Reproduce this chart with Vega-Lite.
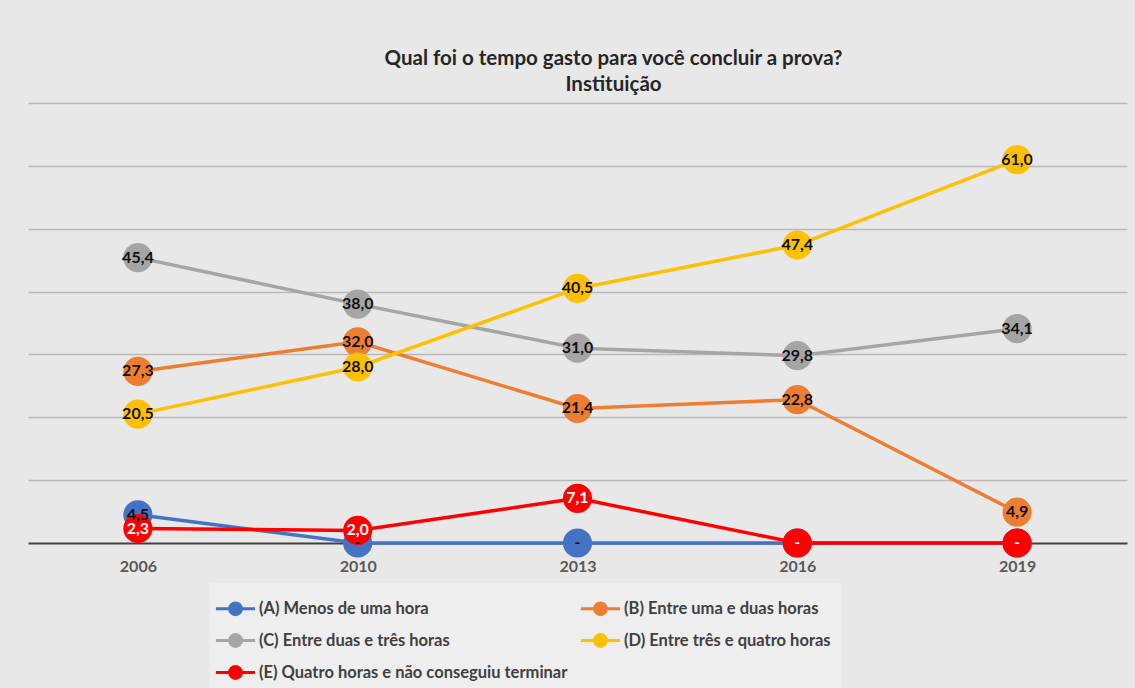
{
  "$schema": "https://vega.github.io/schema/vega-lite/v6.json",
  "width": 1099,
  "height": 440,
  "autosize": {"type": "none"},
  "padding": {"left": 28, "top": 103, "right": 8, "bottom": 145},
  "background": "#e8e8e8",
  "title": {
    "text": ["Qual foi o tempo gasto para você concluir a prova?", "Instituição"],
    "font": "Lato",
    "fontSize": 20.5,
    "fontWeight": "bold",
    "color": "#262626",
    "anchor": "middle",
    "dx": 36,
    "offset": 8,
    "lineHeight": 26
  },
  "config": {
    "view": {"stroke": null},
    "font": "Lato"
  },
  "data": {
    "values": [
      {"ano": "2006", "s": "(A) Menos de uma hora", "v": 4.5},
      {"ano": "2010", "s": "(A) Menos de uma hora", "v": 0},
      {"ano": "2013", "s": "(A) Menos de uma hora", "v": 0},
      {"ano": "2016", "s": "(A) Menos de uma hora", "v": 0},
      {"ano": "2019", "s": "(A) Menos de uma hora", "v": 0},
      {"ano": "2006", "s": "(B) Entre uma e duas horas", "v": 27.3},
      {"ano": "2010", "s": "(B) Entre uma e duas horas", "v": 32.0},
      {"ano": "2013", "s": "(B) Entre uma e duas horas", "v": 21.4},
      {"ano": "2016", "s": "(B) Entre uma e duas horas", "v": 22.8},
      {"ano": "2019", "s": "(B) Entre uma e duas horas", "v": 4.9},
      {"ano": "2006", "s": "(C) Entre duas e três horas", "v": 45.4},
      {"ano": "2010", "s": "(C) Entre duas e três horas", "v": 38.0},
      {"ano": "2013", "s": "(C) Entre duas e três horas", "v": 31.0},
      {"ano": "2016", "s": "(C) Entre duas e três horas", "v": 29.8},
      {"ano": "2019", "s": "(C) Entre duas e três horas", "v": 34.1},
      {"ano": "2006", "s": "(D) Entre três e quatro horas", "v": 20.5},
      {"ano": "2010", "s": "(D) Entre três e quatro horas", "v": 28.0},
      {"ano": "2013", "s": "(D) Entre três e quatro horas", "v": 40.5},
      {"ano": "2016", "s": "(D) Entre três e quatro horas", "v": 47.4},
      {"ano": "2019", "s": "(D) Entre três e quatro horas", "v": 61.0},
      {"ano": "2006", "s": "(E) Quatro horas e não conseguiu terminar", "v": 2.3},
      {"ano": "2010", "s": "(E) Quatro horas e não conseguiu terminar", "v": 2.0},
      {"ano": "2013", "s": "(E) Quatro horas e não conseguiu terminar", "v": 7.1},
      {"ano": "2016", "s": "(E) Quatro horas e não conseguiu terminar", "v": 0},
      {"ano": "2019", "s": "(E) Quatro horas e não conseguiu terminar", "v": 0}
    ]
  },
  "transform": [
    {"calculate": "datum.v == 0 ? '-' : replace(format(datum.v, '.1f'), '.', ',')", "as": "lbl"}
  ],
  "encoding": {
    "x": {
      "field": "ano",
      "type": "ordinal",
      "scale": {"type": "point", "padding": 0.5},
      "axis": {
        "title": null,
        "labelAngle": 0,
        "labelFont": "Lato",
        "labelFontSize": 16,
        "labelFontWeight": "bold",
        "labelColor": "#595959",
        "labelPadding": 15,
        "ticks": false,
        "domainColor": "#404040",
        "domainWidth": 2,
        "grid": false
      }
    },
    "y": {
      "field": "v",
      "type": "quantitative",
      "scale": {"domain": [0, 70], "nice": false},
      "axis": {
        "title": null,
        "labels": false,
        "ticks": false,
        "domain": false,
        "values": [10, 20, 30, 40, 50, 60, 70],
        "gridColor": "#b8b8b8",
        "gridWidth": 1.5
      }
    },
    "color": {
      "field": "s",
      "type": "nominal",
      "scale": {
        "domain": [
          "(A) Menos de uma hora",
          "(B) Entre uma e duas horas",
          "(C) Entre duas e três horas",
          "(D) Entre três e quatro horas",
          "(E) Quatro horas e não conseguiu terminar"
        ],
        "range": ["#4472C4", "#ED7D31", "#A5A5A5", "#FFC000", "#FF0000"]
      },
      "legend": {
        "title": null,
        "orient": "none",
        "direction": "horizontal",
        "legendX": 182,
        "legendY": 480,
        "columns": 2,
        "columnPadding": 6,
        "rowPadding": 4,
        "padding": 10,
        "fillColor": "#eeeeee",
        "labelFont": "Lato",
        "labelFontSize": 16.5,
        "labelFontWeight": "bold",
        "labelColor": "#404040",
        "labelLimit": 400,
        "labelOffset": 8,
        "symbolType": "M-1.4,0H1.4M-0.42,0A0.42,0.42,0,1,0,0.42,0A0.42,0.42,0,1,0,-0.42,0Z",
        "symbolSize": 784,
        "symbolStrokeWidth": 3,
        "encode": {
          "symbols": {
            "update": {
              "fill": {"scale": "color", "field": "value"},
              "stroke": {"scale": "color", "field": "value"},
              "strokeWidth": {"value": 3},
              "opacity": {"value": 1}
            }
          }
        }
      }
    }
  },
  "layer": [
    {"mark": {"type": "line", "strokeWidth": 3.5}},
    {"mark": {"type": "point", "filled": true, "size": 850, "opacity": 1}},
    {
      "mark": {"type": "text", "font": "Lato", "fontSize": 16, "fontWeight": "bold"},
      "encoding": {
        "text": {"field": "lbl"},
        "color": {
          "condition": {"test": "datum.s == '(E) Quatro horas e não conseguiu terminar'", "value": "#ffffff"},
          "value": "#111111"
        }
      }
    }
  ]
}
